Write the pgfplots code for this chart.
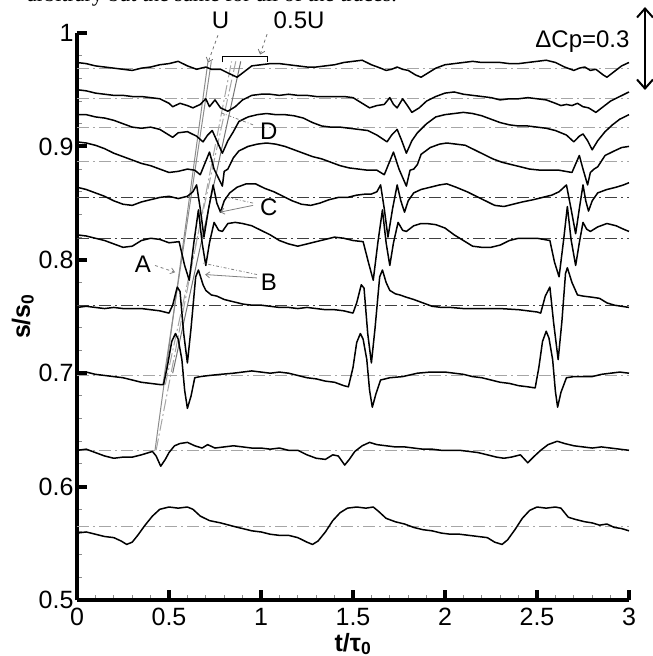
\documentclass[border=0pt]{standalone}
\usepackage{fontspec}
\setmainfont{Liberation Sans}
\newfontfamily\capserif{Liberation Serif}
\usepackage{pgfplots}
\pgfplotsset{compat=1.18}
\usetikzlibrary{arrows.meta}
\begin{document}
\begin{tikzpicture}[font=\fontsize{24bp}{28bp}\selectfont]
\useasboundingbox (-77bp,-56bp) rectangle (576bp,600bp);
\clip (-77bp,-56bp) rectangle (576bp,600bp);
\node[anchor=base west, font=\fontsize{22bp}{26bp}\selectfont\capserif, inner sep=0pt] at (-50bp,598bp) {arbitrary but the same for all of the traces.};
\begin{axis}[
  at={(0,0)}, anchor=south west,
  scale only axis, width=552bp, height=567bp,
  xmin=0, xmax=3, ymin=0.5, ymax=1,
  axis x line=bottom, axis y line=left,
  axis line style={-, line width=4bp},
  xtick={0,0.5,1,1.5,2,2.5,3}, xticklabels={0,0.5,1,1.5,2,2.5,3},
  ytick={0.5,0.6,0.7,0.8,0.9,1}, yticklabels={0.5,0.6,0.7,0.8,0.9,1},
  minor x tick num=4, minor y tick num=4,
  tick align=inside,
  major tick length=10bp, minor tick length=5bp,
  every major tick/.style={line width=4bp, black},
  every minor tick/.style={line width=1bp, black!45},
  /pgf/number format/assume math mode=true,
  ticklabel style={font=\fontsize{25bp}{29bp}\selectfont},
  xticklabel style={yshift=-5bp},
  xlabel={\textbf{t/τ\textsubscript{0}}},
  ylabel={\textbf{s/s\textsubscript{0}}},
  label style={font=\fontsize{25bp}{29bp}\selectfont},
  xlabel style={yshift=0bp},
  ylabel style={yshift=-2bp},
  clip=false,
  trace/.style={black, line width=1.5bp, line join=round, no marks},
  base/.style={black!35, line width=1bp, dash pattern=on 12bp off 4bp on 2bp off 4bp},
  darkbase/.style={black!75, line width=1bp, dash pattern=on 12bp off 4bp on 2bp off 4bp},
]
% baselines
\addplot[base] coordinates {(0,0.969) (3,0.969)};
\addplot[base] coordinates {(0,0.942) (3,0.942)};
\addplot[base] coordinates {(0,0.917) (3,0.917)};
\addplot[base] coordinates {(0,0.887) (3,0.887)};
\addplot[darkbase] coordinates {(0,0.855) (3,0.855)};
\addplot[darkbase] coordinates {(0,0.819) (3,0.819)};
\addplot[darkbase] coordinates {(0,0.760) (3,0.760)};
\addplot[base] coordinates {(0,0.698) (3,0.698)};
\addplot[base] coordinates {(0,0.632) (3,0.632)};
\addplot[base] coordinates {(0,0.565) (3,0.565)};
% velocity lines
\addplot[black!45, line width=1bp] coordinates {(0.424,0.632) (0.712,0.975)};
\addplot[black!45, line width=1bp] coordinates {(0.467,0.690) (0.73,0.975)};
\addplot[black!35, line width=1bp, dash pattern=on 12bp off 3bp on 2bp off 3bp] coordinates {(0.43,0.632) (0.84,0.975)};
\addplot[black!35, line width=1bp, dash pattern=on 12bp off 3bp on 2bp off 3bp] coordinates {(0.48,0.690) (0.863,0.975)};
\addplot[black!55, line width=1bp] coordinates {(0.52,0.700) (0.89,0.975)};
% trace 10
\addplot[trace] coordinates {(0,0.559) (0.05,0.560) (0.1,0.558) (0.15,0.556) (0.2,0.555) (0.24,0.552) (0.27,0.549) (0.3,0.551) (0.33,0.557) (0.37,0.566) (0.41,0.574) (0.45,0.580) (0.5,0.582) (0.55,0.581) (0.6,0.582) (0.63,0.580) (0.67,0.574) (0.72,0.570) (0.78,0.568) (0.85,0.565) (0.9,0.563) (0.95,0.561) (1.0,0.560) (1.05,0.558) (1.1,0.557) (1.15,0.557) (1.2,0.555) (1.25,0.551) (1.28,0.549) (1.31,0.552) (1.35,0.560) (1.39,0.570) (1.43,0.577) (1.47,0.581) (1.52,0.582) (1.57,0.581) (1.61,0.582) (1.64,0.578) (1.68,0.572) (1.73,0.569) (1.78,0.567) (1.83,0.564) (1.88,0.562) (1.93,0.561) (1.98,0.559) (2.03,0.558) (2.08,0.558) (2.13,0.557) (2.18,0.556) (2.23,0.555) (2.27,0.551) (2.31,0.549) (2.34,0.553) (2.38,0.562) (2.42,0.572) (2.46,0.579) (2.5,0.582) (2.55,0.581) (2.6,0.582) (2.63,0.581) (2.67,0.573) (2.71,0.571) (2.76,0.569) (2.8,0.568) (2.84,0.566) (2.88,0.567) (2.92,0.564) (2.96,0.563) (3.0,0.561)};
% trace 9
\addplot[trace] coordinates {(0,0.632) (0.05,0.633) (0.1,0.630) (0.15,0.627) (0.2,0.625) (0.25,0.626) (0.3,0.626) (0.35,0.628) (0.39,0.630) (0.41,0.631) (0.43,0.627) (0.455,0.618) (0.48,0.624) (0.5,0.630) (0.53,0.636) (0.56,0.638) (0.6,0.639) (0.64,0.636) (0.68,0.634) (0.71,0.637) (0.75,0.634) (0.8,0.635) (0.85,0.636) (0.9,0.635) (0.95,0.634) (1.0,0.634) (1.05,0.633) (1.1,0.634) (1.15,0.632) (1.2,0.632) (1.25,0.628) (1.3,0.625) (1.35,0.624) (1.39,0.628) (1.42,0.627) (1.455,0.619) (1.48,0.624) (1.51,0.631) (1.55,0.636) (1.59,0.639) (1.63,0.637) (1.68,0.636) (1.73,0.635) (1.78,0.635) (1.83,0.634) (1.88,0.633) (1.93,0.633) (1.98,0.632) (2.03,0.632) (2.08,0.632) (2.13,0.631) (2.18,0.630) (2.23,0.628) (2.28,0.626) (2.32,0.625) (2.36,0.626) (2.41,0.628) (2.45,0.621) (2.48,0.626) (2.52,0.632) (2.56,0.637) (2.61,0.640) (2.65,0.638) (2.7,0.636) (2.75,0.635) (2.8,0.634) (2.85,0.635) (2.9,0.634) (2.95,0.633) (3.0,0.632)};
% trace 8
\addplot[trace] coordinates {(0,0.700) (0.05,0.701) (0.1,0.699) (0.15,0.698) (0.2,0.697) (0.25,0.696) (0.3,0.694) (0.35,0.692) (0.4,0.691) (0.45,0.690) (0.47,0.690) (0.49,0.705) (0.515,0.728) (0.535,0.735) (0.55,0.730) (0.57,0.712) (0.585,0.685) (0.6,0.669) (0.62,0.680) (0.64,0.696) (0.67,0.697) (0.72,0.698) (0.78,0.699) (0.85,0.700) (0.9,0.701) (0.95,0.702) (1.0,0.701) (1.05,0.700) (1.1,0.701) (1.15,0.700) (1.2,0.698) (1.25,0.696) (1.3,0.695) (1.35,0.693) (1.4,0.692) (1.45,0.689) (1.475,0.688) (1.5,0.705) (1.52,0.727) (1.54,0.735) (1.555,0.730) (1.575,0.712) (1.59,0.685) (1.605,0.670) (1.625,0.682) (1.65,0.694) (1.7,0.696) (1.77,0.697) (1.85,0.700) (1.92,0.701) (2.0,0.701) (2.05,0.700) (2.1,0.699) (2.15,0.697) (2.2,0.696) (2.25,0.694) (2.3,0.692) (2.35,0.691) (2.4,0.689) (2.45,0.688) (2.49,0.687) (2.51,0.705) (2.53,0.728) (2.55,0.737) (2.565,0.731) (2.585,0.712) (2.6,0.684) (2.612,0.670) (2.63,0.683) (2.66,0.696) (2.7,0.697) (2.75,0.697) (2.8,0.697) (2.85,0.699) (2.9,0.700) (2.95,0.701) (3.0,0.700)};
% trace 7
\addplot[trace] coordinates {(0,0.758) (0.05,0.759) (0.1,0.758) (0.15,0.757) (0.2,0.758) (0.25,0.757) (0.3,0.757) (0.35,0.757) (0.4,0.756) (0.45,0.755) (0.5,0.753) (0.52,0.760) (0.545,0.776) (0.56,0.772) (0.58,0.735) (0.6,0.709) (0.62,0.740) (0.645,0.785) (0.66,0.791) (0.685,0.778) (0.7,0.773) (0.73,0.769) (0.76,0.768) (0.8,0.765) (0.85,0.763) (0.9,0.761) (0.95,0.760) (1.0,0.760) (1.05,0.759) (1.1,0.758) (1.15,0.758) (1.2,0.757) (1.25,0.758) (1.3,0.757) (1.35,0.756) (1.4,0.756) (1.45,0.755) (1.5,0.753) (1.52,0.762) (1.545,0.778) (1.56,0.775) (1.58,0.735) (1.6,0.709) (1.62,0.740) (1.645,0.785) (1.66,0.791) (1.68,0.780) (1.7,0.773) (1.73,0.770) (1.755,0.769) (1.79,0.767) (1.83,0.765) (1.88,0.762) (1.93,0.759) (1.98,0.758) (2.03,0.758) (2.1,0.757) (2.2,0.757) (2.3,0.757) (2.4,0.756) (2.45,0.755) (2.5,0.754) (2.52,0.753) (2.545,0.768) (2.57,0.776) (2.59,0.745) (2.615,0.712) (2.635,0.745) (2.655,0.788) (2.665,0.793) (2.69,0.780) (2.72,0.769) (2.75,0.768) (2.8,0.767) (2.84,0.766) (2.88,0.762) (2.92,0.760) (2.96,0.759) (3.0,0.758)};
% trace 6
\addplot[trace] coordinates {(0,0.822) (0.05,0.821) (0.1,0.819) (0.15,0.817) (0.2,0.814) (0.25,0.811) (0.3,0.812) (0.35,0.817) (0.4,0.819) (0.45,0.818) (0.5,0.815) (0.555,0.816) (0.585,0.795) (0.61,0.782) (0.635,0.815) (0.66,0.844) (0.68,0.815) (0.70,0.795) (0.72,0.815) (0.745,0.833) (0.77,0.826) (0.79,0.825) (0.82,0.832) (0.86,0.833) (0.9,0.832) (0.95,0.830) (1.0,0.826) (1.05,0.822) (1.1,0.817) (1.15,0.814) (1.2,0.812) (1.25,0.814) (1.3,0.816) (1.35,0.818) (1.4,0.820) (1.45,0.819) (1.5,0.817) (1.555,0.816) (1.585,0.797) (1.61,0.782) (1.635,0.815) (1.66,0.844) (1.68,0.815) (1.70,0.795) (1.72,0.815) (1.745,0.833) (1.77,0.826) (1.79,0.825) (1.83,0.830) (1.87,0.832) (1.9,0.832) (1.95,0.831) (2.0,0.828) (2.05,0.822) (2.1,0.817) (2.15,0.812) (2.2,0.811) (2.25,0.811) (2.3,0.813) (2.35,0.817) (2.4,0.819) (2.45,0.819) (2.5,0.819) (2.57,0.817) (2.595,0.798) (2.62,0.785) (2.645,0.818) (2.665,0.847) (2.685,0.818) (2.71,0.795) (2.73,0.815) (2.75,0.833) (2.77,0.827) (2.79,0.825) (2.83,0.829) (2.88,0.832) (2.93,0.830) (2.97,0.827) (3.0,0.825)};
% trace 5
\addplot[trace] coordinates {(0,0.864) (0.05,0.862) (0.1,0.859) (0.15,0.856) (0.2,0.852) (0.25,0.849) (0.3,0.848) (0.35,0.851) (0.4,0.853) (0.45,0.855) (0.5,0.856) (0.55,0.854) (0.6,0.856) (0.63,0.860) (0.65,0.866) (0.67,0.845) (0.69,0.820) (0.715,0.845) (0.74,0.866) (0.76,0.850) (0.78,0.842) (0.80,0.852) (0.83,0.859) (0.87,0.864) (0.92,0.867) (0.97,0.867) (1.02,0.863) (1.07,0.860) (1.12,0.856) (1.17,0.852) (1.22,0.849) (1.27,0.848) (1.32,0.850) (1.37,0.853) (1.42,0.855) (1.47,0.855) (1.52,0.857) (1.57,0.858) (1.6,0.858) (1.63,0.860) (1.65,0.866) (1.67,0.845) (1.69,0.820) (1.715,0.845) (1.74,0.866) (1.76,0.852) (1.78,0.842) (1.80,0.852) (1.83,0.859) (1.87,0.862) (1.92,0.864) (1.97,0.866) (2.01,0.867) (2.06,0.864) (2.12,0.860) (2.17,0.856) (2.22,0.852) (2.27,0.848) (2.32,0.847) (2.37,0.849) (2.42,0.851) (2.48,0.853) (2.53,0.855) (2.58,0.857) (2.62,0.860) (2.66,0.866) (2.685,0.845) (2.71,0.823) (2.73,0.845) (2.75,0.866) (2.765,0.852) (2.78,0.843) (2.80,0.852) (2.83,0.859) (2.88,0.862) (2.93,0.864) (2.97,0.866) (3.0,0.868)};
% trace 4
\addplot[trace] coordinates {(0,0.904) (0.05,0.903) (0.1,0.901) (0.15,0.898) (0.2,0.894) (0.25,0.891) (0.3,0.888) (0.35,0.885) (0.4,0.883) (0.45,0.880) (0.5,0.877) (0.55,0.878) (0.6,0.880) (0.64,0.879) (0.67,0.875) (0.72,0.895) (0.745,0.880) (0.79,0.865) (0.8,0.878) (0.82,0.880) (0.85,0.890) (0.88,0.896) (0.93,0.900) (0.98,0.902) (1.03,0.903) (1.08,0.902) (1.13,0.900) (1.18,0.897) (1.23,0.894) (1.28,0.891) (1.33,0.889) (1.38,0.886) (1.43,0.883) (1.48,0.881) (1.53,0.880) (1.58,0.879) (1.63,0.879) (1.67,0.875) (1.72,0.895) (1.75,0.880) (1.79,0.865) (1.81,0.879) (1.83,0.880) (1.85,0.884) (1.87,0.893) (1.92,0.899) (1.97,0.902) (2.01,0.903) (2.06,0.902) (2.11,0.901) (2.16,0.897) (2.21,0.893) (2.26,0.889) (2.31,0.886) (2.36,0.884) (2.41,0.882) (2.46,0.880) (2.52,0.879) (2.57,0.879) (2.62,0.879) (2.69,0.877) (2.73,0.892) (2.75,0.880) (2.775,0.866) (2.79,0.877) (2.81,0.880) (2.83,0.882) (2.87,0.892) (2.92,0.896) (2.96,0.899) (3.0,0.900)};
% trace 3
\addplot[trace] coordinates {(0,0.928) (0.05,0.928) (0.1,0.926) (0.15,0.925) (0.2,0.923) (0.25,0.920) (0.3,0.917) (0.35,0.916) (0.4,0.917) (0.45,0.915) (0.5,0.910) (0.52,0.908) (0.55,0.912) (0.6,0.913) (0.65,0.909) (0.685,0.904) (0.71,0.910) (0.735,0.914) (0.76,0.905) (0.79,0.894) (0.82,0.905) (0.85,0.913) (0.88,0.922) (0.93,0.926) (0.98,0.928) (1.03,0.929) (1.08,0.928) (1.13,0.928) (1.18,0.927) (1.23,0.925) (1.28,0.921) (1.33,0.918) (1.38,0.917) (1.43,0.917) (1.48,0.916) (1.53,0.915) (1.58,0.914) (1.63,0.910) (1.685,0.904) (1.71,0.910) (1.74,0.915) (1.765,0.905) (1.79,0.894) (1.82,0.905) (1.85,0.912) (1.9,0.920) (1.95,0.926) (2.0,0.928) (2.05,0.929) (2.1,0.930) (2.15,0.929) (2.2,0.927) (2.25,0.924) (2.3,0.921) (2.35,0.919) (2.4,0.918) (2.45,0.918) (2.5,0.917) (2.55,0.916) (2.6,0.914) (2.66,0.910) (2.7,0.904) (2.73,0.909) (2.75,0.911) (2.775,0.905) (2.8,0.897) (2.83,0.905) (2.87,0.913) (2.91,0.919) (2.95,0.924) (3.0,0.928)};
% trace 2
\addplot[trace] coordinates {(0,0.950) (0.05,0.949) (0.1,0.947) (0.15,0.946) (0.2,0.945) (0.25,0.945) (0.3,0.944) (0.35,0.944) (0.4,0.943) (0.45,0.942) (0.5,0.938) (0.52,0.935) (0.56,0.938) (0.6,0.936) (0.63,0.934) (0.67,0.937) (0.7,0.942) (0.72,0.935) (0.75,0.941) (0.78,0.934) (0.82,0.931) (0.86,0.935) (0.9,0.941) (0.95,0.945) (1.0,0.946) (1.05,0.946) (1.1,0.945) (1.15,0.946) (1.2,0.945) (1.25,0.945) (1.3,0.944) (1.35,0.944) (1.4,0.944) (1.45,0.944) (1.5,0.943) (1.55,0.938) (1.59,0.934) (1.63,0.936) (1.67,0.937) (1.7,0.943) (1.72,0.937) (1.74,0.934) (1.77,0.942) (1.8,0.935) (1.82,0.930) (1.86,0.934) (1.9,0.940) (1.95,0.944) (2.0,0.947) (2.05,0.948) (2.1,0.946) (2.15,0.945) (2.2,0.944) (2.25,0.943) (2.3,0.941) (2.35,0.942) (2.4,0.942) (2.45,0.943) (2.5,0.942) (2.55,0.941) (2.6,0.938) (2.63,0.936) (2.66,0.937) (2.69,0.936) (2.72,0.938) (2.75,0.935) (2.78,0.934) (2.82,0.930) (2.86,0.935) (2.9,0.940) (2.95,0.944) (3.0,0.948)};
% trace 1
\addplot[trace] coordinates {(0,0.974) (0.05,0.973) (0.1,0.971) (0.15,0.970) (0.2,0.969) (0.25,0.968) (0.3,0.967) (0.35,0.969) (0.4,0.970) (0.45,0.972) (0.5,0.973) (0.55,0.975) (0.6,0.971) (0.65,0.968) (0.7,0.970) (0.73,0.968) (0.78,0.968) (0.83,0.964) (0.87,0.961) (0.91,0.966) (0.95,0.971) (1.0,0.972) (1.05,0.973) (1.1,0.973) (1.15,0.972) (1.2,0.971) (1.25,0.970) (1.3,0.970) (1.35,0.971) (1.4,0.972) (1.45,0.974) (1.5,0.975) (1.55,0.976) (1.6,0.972) (1.65,0.969) (1.68,0.967) (1.71,0.968) (1.74,0.970) (1.77,0.968) (1.8,0.967) (1.84,0.963) (1.87,0.961) (1.91,0.965) (1.95,0.969) (2.0,0.972) (2.05,0.973) (2.1,0.974) (2.15,0.975) (2.2,0.974) (2.25,0.974) (2.3,0.974) (2.35,0.973) (2.4,0.973) (2.45,0.974) (2.5,0.975) (2.55,0.976) (2.6,0.974) (2.65,0.970) (2.7,0.967) (2.73,0.969) (2.76,0.970) (2.79,0.967) (2.82,0.968) (2.86,0.963) (2.88,0.961) (2.92,0.966) (2.96,0.971) (3.0,0.974)};
% annotations
\draw[black!55, line width=0.8bp, dashed, -{Straight Barb[length=4bp,width=7bp]}] (axis cs:0.766,0.998) -- (axis cs:0.712,0.974);
\draw[black!55, line width=0.8bp, dashed, -{Straight Barb[length=4bp,width=7bp]}] (axis cs:1.033,0.999) -- (axis cs:0.995,0.981);
\draw[black, line width=1bp] (axis cs:0.793,0.974) -- (axis cs:0.793,0.979) -- (axis cs:1.033,0.979) -- (axis cs:1.033,0.974);
\node at (axis cs:0.78,1.011) {U};
\node at (axis cs:1.207,1.011) {0.5U};
\node at (axis cs:0.358,0.796) {A};
\node at (axis cs:1.043,0.780) {B};
\node at (axis cs:1.043,0.846) {C};
\node at (axis cs:1.043,0.913) {D};
\draw[black!50, line width=0.8bp, dashed, -{Straight Barb[length=4bp,width=6bp]}] (axis cs:0.424,0.795) -- (axis cs:0.533,0.789);
\draw[black!50, line width=0.8bp, dash dot] (axis cs:0.978,0.787) -- (axis cs:0.685,0.797);
\draw[black!50, line width=0.8bp, -{Straight Barb[length=4bp,width=6bp]}] (axis cs:0.978,0.784) -- (axis cs:0.696,0.787);
\draw[black!50, line width=0.8bp, dash dot] (axis cs:0.957,0.850) -- (axis cs:0.82,0.855);
\draw[black!50, line width=0.8bp, -{Straight Barb[length=4bp,width=6bp]}] (axis cs:0.957,0.848) -- (axis cs:0.777,0.842);
\draw[black!50, line width=0.8bp, dash dot] (axis cs:0.957,0.919) -- (axis cs:0.777,0.930);
\end{axis}
\node[anchor=east] at (556bp,558bp) {ΔCp=0.3};
\draw[line width=2bp, {Straight Barb[length=9bp,width=16bp]}-{Straight Barb[length=9bp,width=16bp]}] (568bp,593bp) -- (568bp,510bp);
\end{tikzpicture}
\end{document}
